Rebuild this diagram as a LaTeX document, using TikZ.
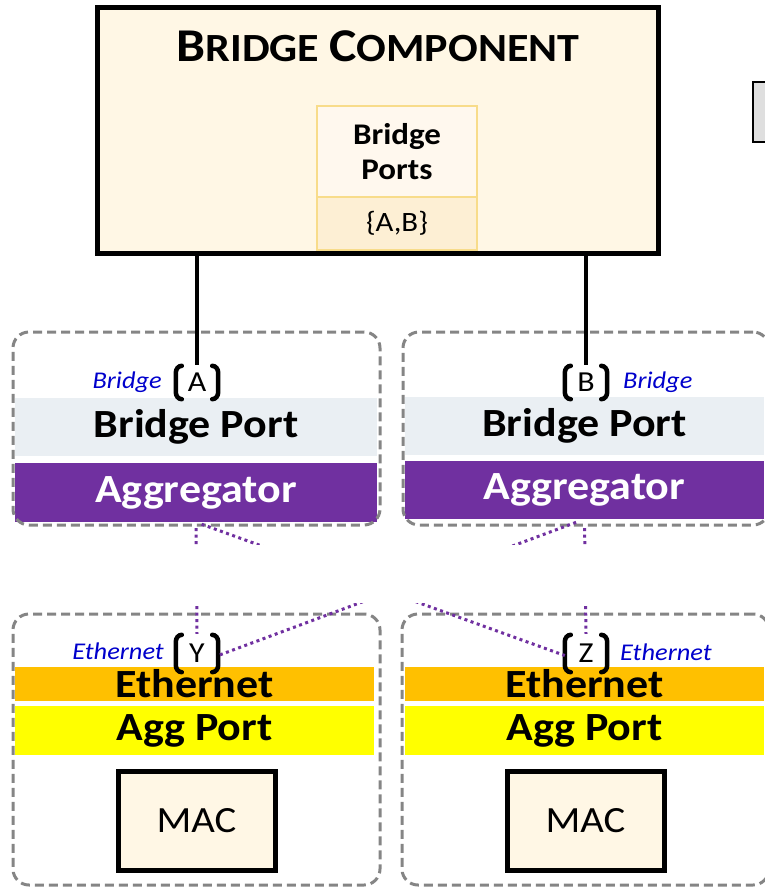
\documentclass[tikz,border=0pt]{standalone}
\usepackage{fontspec}
\setmainfont{Carlito}[FakeStretch=1.1]
\definecolor{cream}{HTML}{FFF7E5}
\definecolor{bpcol}{HTML}{EAEFF3}
\definecolor{aggcol}{HTML}{7030A0}
\definecolor{ethcol}{HTML}{FFC000}
\definecolor{aggpcol}{HTML}{FFFF00}
\definecolor{lblblue}{HTML}{0000CC}
\definecolor{dashgray}{HTML}{858585}
\definecolor{portup}{HTML}{FFF8EE}
\definecolor{portlo}{HTML}{FDEFD4}
\definecolor{portbd}{HTML}{F8DC8A}
\tikzset{
  bigbox/.style={draw=black, line width=5pt, fill=cream, rectangle, inner sep=0pt},
  band/.style={rectangle, inner sep=0pt, font=\bfseries\fontsize{40}{44}\selectfont},
  cont/.style={draw=dashgray, line width=3pt, dash pattern=on 9pt off 5pt, rounded corners=16pt, rectangle, inner sep=0pt},
  portbox/.style={draw=portbd, line width=2pt, rectangle, inner sep=0pt, align=center},
  brlbl/.style={rectangle, inner sep=0pt, minimum width=42pt, font=\fontsize{29}{32}\selectfont},
  bluelbl/.style={text=lblblue, inner sep=0pt, font=\itshape\fontsize{24}{28}\selectfont},
  wire/.style={line width=4.5pt, black},
  dots/.style={line width=3pt, aggcol, dash pattern=on 3pt off 3.5pt},
  brk/.style={line width=4.5pt, black, line cap=round}
}
\newcommand\bracketsof[1]{%
  \draw[brk] ([xshift=6pt,yshift=-1pt]#1.north west) to[out=180,in=90] ([yshift=-8pt]#1.north west) -- ([yshift=8pt]#1.south west) to[out=-90,in=180] ([xshift=6pt,yshift=1pt]#1.south west);
  \draw[brk] ([xshift=-6pt,yshift=-1pt]#1.north east) to[out=0,in=90] ([yshift=-8pt]#1.north east) -- ([yshift=8pt]#1.south east) to[out=-90,in=0] ([xshift=-6pt,yshift=1pt]#1.south east);
}
\begin{document}
\begin{tikzpicture}[x=1pt,y=-1pt]
\useasboundingbox (0,0) rectangle (764,887);

% side element at right edge
\draw[line width=2pt, fill=gray!25] (753,82) rectangle (778,142);

% bridge component
\node[bigbox, minimum width=561pt, minimum height=246pt] (bc) at (377.5,130) {};
\node[font=\bfseries, inner sep=0pt] (title) at (378,46)
  {\fontsize{47}{50}\selectfont B\fontsize{40}{42}\selectfont RIDGE \fontsize{47}{50}\selectfont C\fontsize{40}{42}\selectfont OMPONENT};
\node[portbox, fill=portup, minimum width=160pt, minimum height=91pt, font=\bfseries\fontsize{30}{35}\selectfont] (bpu) at (397,151.5) {Bridge\\Ports};
\node[portbox, fill=portlo, minimum width=160pt, minimum height=53pt, font=\fontsize{28}{30}\selectfont] (bpl) at (397,223.5) {\{A,B\}};

% top-left container
\node[band, fill=bpcol, minimum width=362pt, minimum height=58pt] (bpA) at (196,427) {Bridge Port};
\node[band, fill=aggcol, text=white, minimum width=362pt, minimum height=59pt] (aggA) at (196,492.5) {Aggregator};
\node[cont, minimum width=367pt, minimum height=193pt] (contA) at (196.5,428.5) {};
\node[brlbl, minimum height=35pt] (pA) at (197,382.5) {A};
\node[bluelbl, anchor=east] (lA) at (162,382) {Bridge};

% top-right container
\node[band, fill=bpcol, minimum width=359pt, minimum height=58pt] (bpB) at (584.5,426) {Bridge Port};
\node[band, fill=aggcol, text=white, minimum width=359pt, minimum height=58pt] (aggB) at (584.5,490) {Aggregator};
\node[cont, minimum width=366pt, minimum height=193pt] (contB) at (586,428.5) {};
\node[brlbl, minimum height=35pt] (pB) at (586,382.5) {B};
\node[bluelbl, anchor=west] (lB) at (623,382) {Bridge};

% bottom-left container
\node[band, fill=ethcol, minimum width=359pt, minimum height=34pt] (ethA) at (194.5,684) {Ethernet};
\node[band, fill=aggpcol, minimum width=359pt, minimum height=49pt] (apA) at (194.5,730.5) {Agg Port};
\node[bigbox, minimum width=157pt, minimum height=99pt, font=\fontsize{37}{40}\selectfont] (macA) at (196.5,820.5) {MAC};
\node[cont, minimum width=367pt, minimum height=271pt] (contY) at (196.5,749.5) {};
\node[brlbl, minimum height=39pt] (pY) at (197,653.5) {Y};
\node[bluelbl, anchor=east] (lY) at (164,651) {Ethernet};

% bottom-right container
\node[band, fill=ethcol, minimum width=359pt, minimum height=34pt] (ethB) at (584.5,684) {Ethernet};
\node[band, fill=aggpcol, minimum width=359pt, minimum height=49pt] (apB) at (584.5,730.5) {Agg Port};
\node[bigbox, minimum width=157pt, minimum height=99pt, font=\fontsize{37}{40}\selectfont] (macB) at (585.5,820.5) {MAC};
\node[cont, minimum width=367pt, minimum height=271pt] (contZ) at (585.5,749.5) {};
\node[brlbl, minimum height=39pt] (pZ) at (586,653.5) {Z};
\node[bluelbl, anchor=west] (lZ) at (620,652) {Ethernet};

% brackets
\bracketsof{pA}
\bracketsof{pB}
\bracketsof{pY}
\bracketsof{pZ}

% wires from bridge component
\draw[wire] (pA.north |- bc.south) -- (pA.north);
\draw[wire] (pB.north |- bc.south) -- (pB.north);

% dotted links
\draw[dots, shorten <=6pt] (aggA.south) -- (pY.north);
\draw[dots, shorten <=6pt] (aggA.south) -- ([yshift=-2pt]pZ.west);
\draw[dots, shorten <=9pt] (aggB.south) -- (pZ.north);
\draw[dots, shorten <=9pt] (aggB.south) -- ([yshift=-2pt]pY.east);

% masked middle region
\fill[white] (0,545) rectangle (764,603);
\end{tikzpicture}
\end{document}
